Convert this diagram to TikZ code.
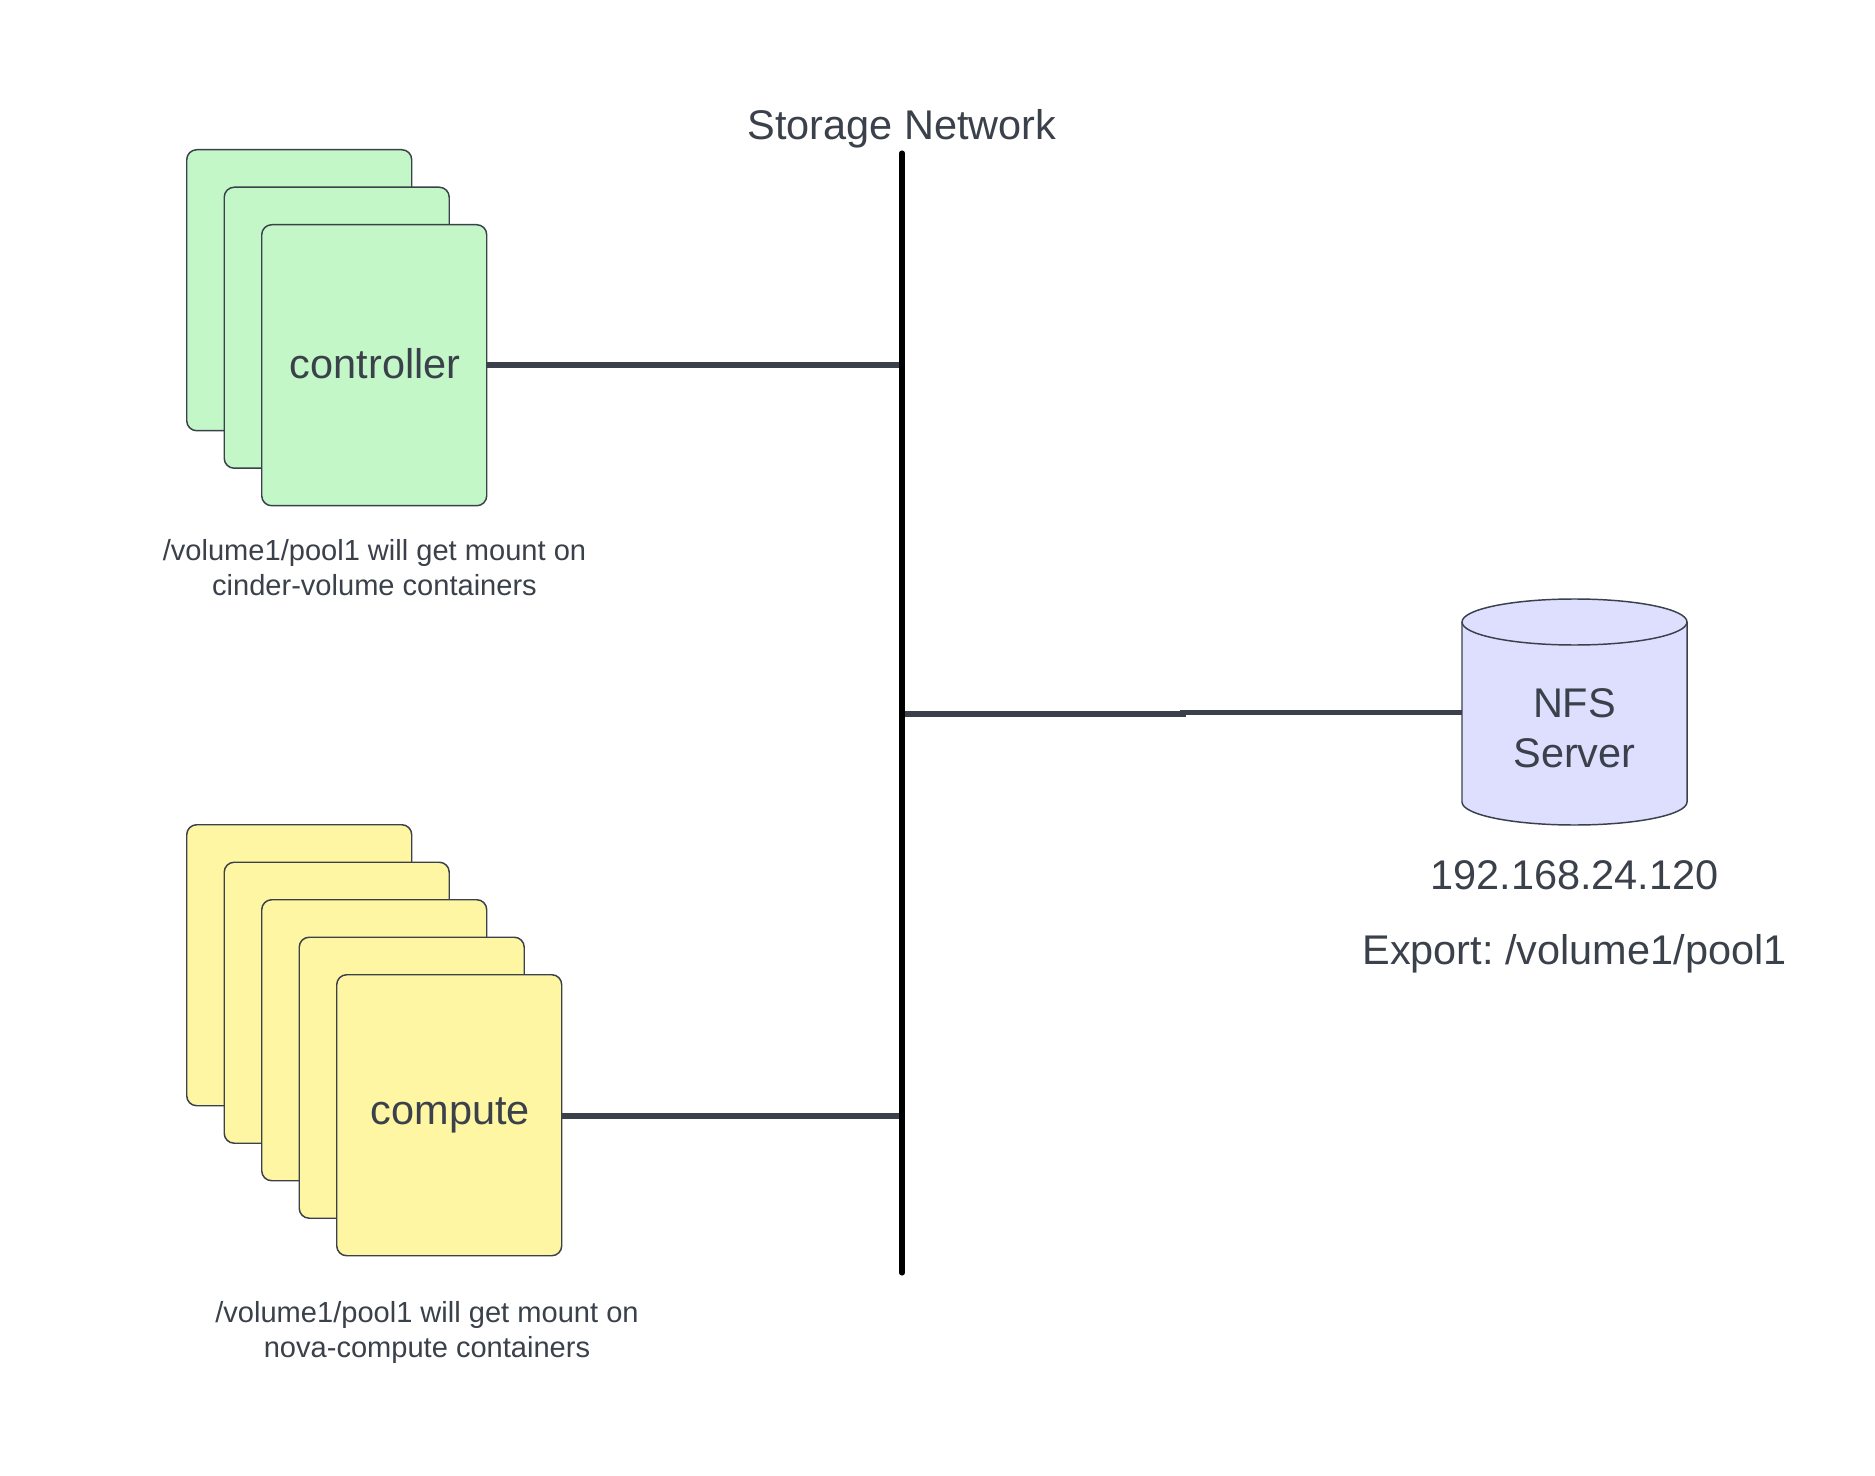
\documentclass[tikz,border=0pt]{standalone}
\usepackage{fontspec}
\setmainfont{Liberation Sans}
\frenchspacing
\definecolor{ink}{HTML}{3A414A}
\definecolor{gfill}{HTML}{C3F7C8}
\definecolor{yfill}{HTML}{FFF6A3}
\definecolor{bfill}{HTML}{DEDFFF}
\tikzset{
  x=0.75pt,y=-0.75pt,
  card/.style={draw=ink,line width=1.1pt,rounded corners=7.5pt,minimum width=168.75pt,minimum height=210.75pt,inner sep=0pt,anchor=north west,text=ink,font=\fontsize{31.1}{37}\selectfont},
  gcard/.style={card,fill=gfill},
  ycard/.style={card,fill=yfill},
  note/.style={align=center,text=ink,font=\fontsize{21.8}{25.9}\selectfont,inner sep=0pt},
  big/.style={align=center,text=ink,font=\fontsize{31.1}{37.2}\selectfont,inner sep=0pt},
  link/.style={draw=ink,line width=3.8pt},
  bus/.style={draw=black,line width=3.8pt,line cap=round}
}
\begin{document}
\begin{tikzpicture}
\useasboundingbox (0,0) rectangle (1875,1476);
\fill[white] (0,0) rectangle (1875,1476);
% storage network
\coordinate (bustop) at (902,153);
\coordinate (busbot) at (902,1273);
\node[big] (title) at (902,129) {Storage Network};
% controller stack
\node[gcard] (c1) at (186,149) {};
\node[gcard] (c2) at (223.5,186.5) {};
\node[gcard] (c3) at (261,224) {\hspace{1.5pt}\raisebox{3.1pt}{controller}};
\node[note] (cnote) at (374.5,567.5) {/volume1/pool1 will get mount on\\cinder-volume containers};
% compute stack
\node[ycard] (n1) at (186,824) {};
\node[ycard] (n2) at (223.5,861.5) {};
\node[ycard] (n3) at (261,899) {};
\node[ycard] (n4) at (298.5,936.5) {};
\node[ycard] (n5) at (336,974) {\hspace{1.5pt}\raisebox{-1.6pt}{compute}};
\node[note] (nnote) at (427,1332.5) {/volume1/pool1 will get mount on\\nova-compute containers};
% cylinder
\path[draw=ink,line width=1.1pt,fill=bfill]
  (1462,622) -- (1462,802) arc[start angle=180,end angle=0,x radius=112.5,y radius=23] -- (1687,622)
  arc[start angle=0,end angle=-180,x radius=112.5,y radius=23] -- cycle;
\draw[ink,line width=1.1pt] (1462,622) arc[start angle=180,end angle=0,x radius=112.5,y radius=23];
\node[big] (nfs) at (1574.5,728) {NFS\\Server};
\coordinate (nfsw) at (1462,712.5);
\node[big] (ip) at (1574.5,875) {192.168.24.120};
\node[big] (exp) at (1574.5,953.5) {Export: /volume1/pool1};
% connectors
\coordinate (jc) at (902,365);
\coordinate (jn) at (902,1116);
\coordinate (js) at (902,714);
\draw[link] (c3.east |- jc) -- (jc);
\draw[link] (n5.east |- jn) -- (jn);
\draw[link] (js) -- (1183,714) -- (1183,712.5) -- (nfsw);
\draw[bus] (bustop) -- (busbot);
\end{tikzpicture}
\end{document}
